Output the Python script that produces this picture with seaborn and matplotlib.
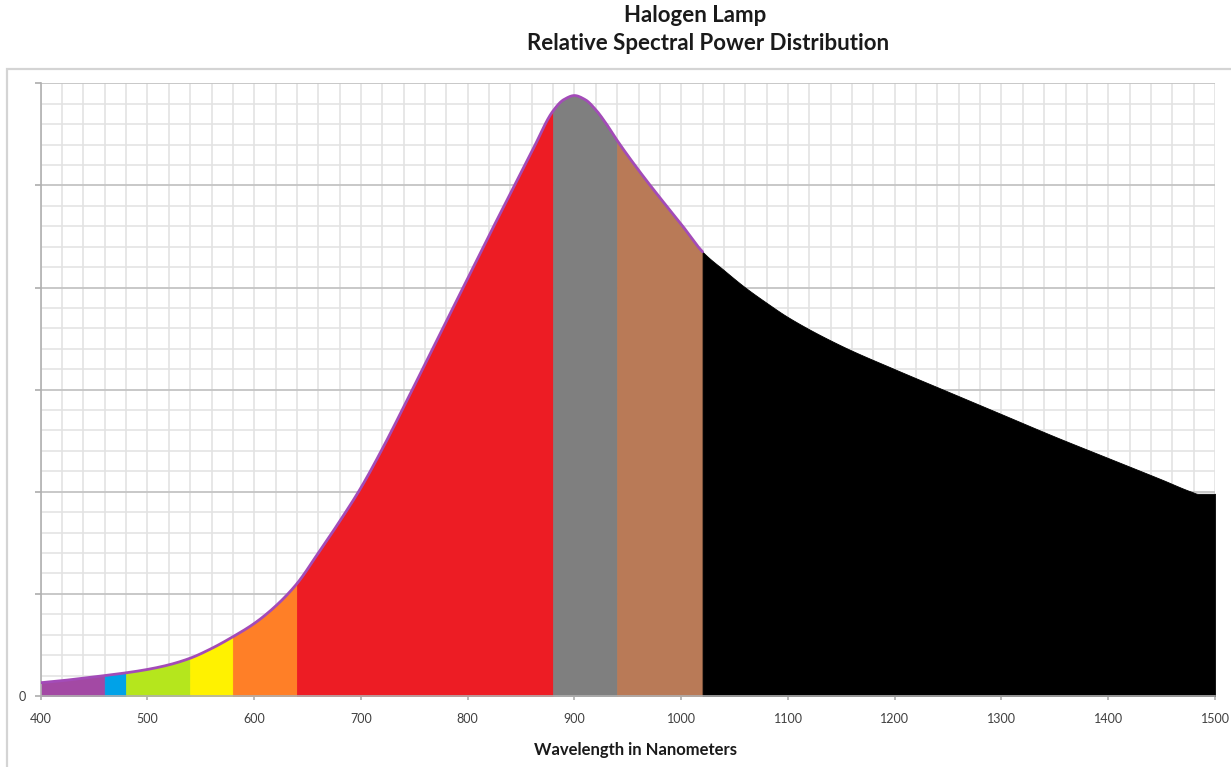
import numpy as np
import pandas as pd
import matplotlib
matplotlib.use("Agg")
import matplotlib.pyplot as plt
import seaborn as sns
from matplotlib.patches import Rectangle
from matplotlib.ticker import MultipleLocator

# ---- data ----
wavelength = [400, 420, 440, 460, 480, 500, 520, 540, 560, 580, 600, 620, 640,
              660, 680, 700, 720, 740, 760, 780, 800, 820, 840, 860, 880, 890,
              900, 910, 920, 930, 940, 960, 980, 1000, 1020, 1040,
              1060, 1080, 1100, 1150, 1200, 1250, 1300, 1350, 1400, 1450,
              1478, 1484, 1500]
power = [1.3, 1.5, 1.75, 2.0, 2.27, 2.6, 3.05, 3.7, 4.65, 5.8, 7.1, 8.8, 11.0,
         14.0, 17.1, 20.4, 24.2, 28.3, 32.5, 36.7, 40.9, 45.1, 49.2, 53.3, 57.3, 58.4,
         58.8, 58.4, 57.4, 56.0, 54.4, 51.5, 48.8, 46.2, 43.5, 41.7,
         40.0, 38.5, 37.1, 34.3, 32.0, 29.8, 27.6, 25.4, 23.3, 21.2,
         20.0, 19.8, 19.8]
band_edges = [400, 460, 480, 540, 580, 640, 880, 940, 1020, 1500]
band_colors = ["#a349a4", "#00a2e8", "#b5e61d", "#fff200", "#ff7f27",
               "#ed1c24", "#7f7f7f", "#b97a57", "#000000"]
outline_end = 1020
x_ticks = [400, 500, 600, 700, 800, 900, 1000, 1100, 1200, 1300, 1400, 1500]
title_lines = ["Halogen Lamp", "Relative Spectral Power Distribution"]
x_label = "Wavelength in Nanometers"


def pchip(x, y, xn):
    """Monotone cubic Hermite interpolation (smooth curve through the points)."""
    x = np.asarray(x, float)
    y = np.asarray(y, float)
    h = np.diff(x)
    d = np.diff(y) / h
    n = len(x)
    m = np.zeros(n)
    for k in range(1, n - 1):
        if d[k - 1] * d[k] <= 0:
            m[k] = 0.0
        else:
            w1 = 2 * h[k] + h[k - 1]
            w2 = h[k] + 2 * h[k - 1]
            m[k] = (w1 + w2) / (w1 / d[k - 1] + w2 / d[k])
    m[0] = d[0]
    m[-1] = d[-1]
    xn = np.asarray(xn, float)
    idx = np.clip(np.searchsorted(x, xn) - 1, 0, n - 2)
    t = (xn - x[idx]) / h[idx]
    h00 = 2 * t**3 - 3 * t**2 + 1
    h10 = t**3 - 2 * t**2 + t
    h01 = -2 * t**3 + 3 * t**2
    h11 = t**3 - t**2
    return (h00 * y[idx] + h10 * h[idx] * m[idx] + h01 * y[idx + 1]
            + h11 * h[idx] * m[idx + 1])


df = pd.DataFrame({"wavelength": wavelength, "power": power})

sns.set_theme(style="white")
plt.rcParams['font.family'] = ['Lato', 'DejaVu Sans']

W, H = 1231, 767
fig = plt.figure(figsize=(W / 100, H / 100), dpi=100)
fig.patch.set_facecolor("white")

# outer chart border
fig.add_artist(Rectangle((7 / W, -0.05), 1.2, (H - 69) / H + 0.05,
                         transform=fig.transFigure, fill=False,
                         edgecolor="#d4d4d4", linewidth=1.6))

ax = fig.add_axes([40.7 / W, (H - 696) / H, (1215 - 40.7) / W, (696 - 83.3) / H])
ax.set_facecolor("white")

# fills for each colour band
for i, c in enumerate(band_colors):
    e0, e1 = band_edges[i], band_edges[i + 1]
    xs = np.linspace(e0, e1, 400)
    ys = pchip(df["wavelength"], df["power"], xs)
    ax.fill_between(xs, 0, ys, facecolor=c, edgecolor=c, linewidth=0.6, zorder=2)

# outline over visible spectrum / near IR
xo = np.linspace(band_edges[0], outline_end, 800)
outline = pd.DataFrame({"wavelength": xo,
                        "power": pchip(df["wavelength"], df["power"], xo)})
sns.lineplot(data=outline, x="wavelength", y="power", color="#a34bb8",
             linewidth=2.0, ax=ax, zorder=3, sort=False)

ax.set_xlim(400, 1500)
ax.set_ylim(0, 60)

# grid
ax.xaxis.set_minor_locator(MultipleLocator(20))
ax.yaxis.set_minor_locator(MultipleLocator(2))
ax.set_xticks(x_ticks)
ax.set_yticks(range(0, 61, 10))
ax.set_yticklabels(["0"] + [""] * 6)
ax.grid(which="major", axis="y", color="#c4c4c4", linewidth=1.3, zorder=0)
ax.grid(which="minor", axis="y", color="#e2e2e2", linewidth=1.1, zorder=0)
ax.grid(which="both", axis="x", color="#e0e0e0", linewidth=1.1, zorder=0)
ax.set_axisbelow(True)

for s in ["top", "right"]:
    ax.spines[s].set_visible(False)
ax.spines["left"].set_color("#b0b0b0")
ax.spines["bottom"].set_color("#b0b0b0")
ax.spines["left"].set_linewidth(1.2)
ax.spines["bottom"].set_linewidth(1.2)

ax.tick_params(axis="x", which="major", length=3, color="#b0b0b0",
               labelsize=9, labelcolor="#404040", pad=9, bottom=True)
ax.tick_params(axis="x", which="minor", length=0)
ax.tick_params(axis="y", which="major", length=4, color="#b0b0b0",
               labelsize=9, labelcolor="#404040", pad=7, left=True)
ax.tick_params(axis="y", which="minor", length=0)

ax.set_xlabel("")
ax.set_ylabel("")

fig.text(695 / W, 1 - 15 / H, title_lines[0], ha="center", va="center",
         fontsize=16, fontweight="bold", color="#1a1a1a")
fig.text(708 / W, 1 - 44 / H, title_lines[1], ha="center", va="center",
         fontsize=16, fontweight="bold", color="#1a1a1a")
fig.text(635 / W, 1 - 750 / H, x_label, ha="center", va="center",
         fontsize=12, fontweight="bold", color="#1a1a1a")

fig.savefig("out.png", dpi=100, facecolor="white")
